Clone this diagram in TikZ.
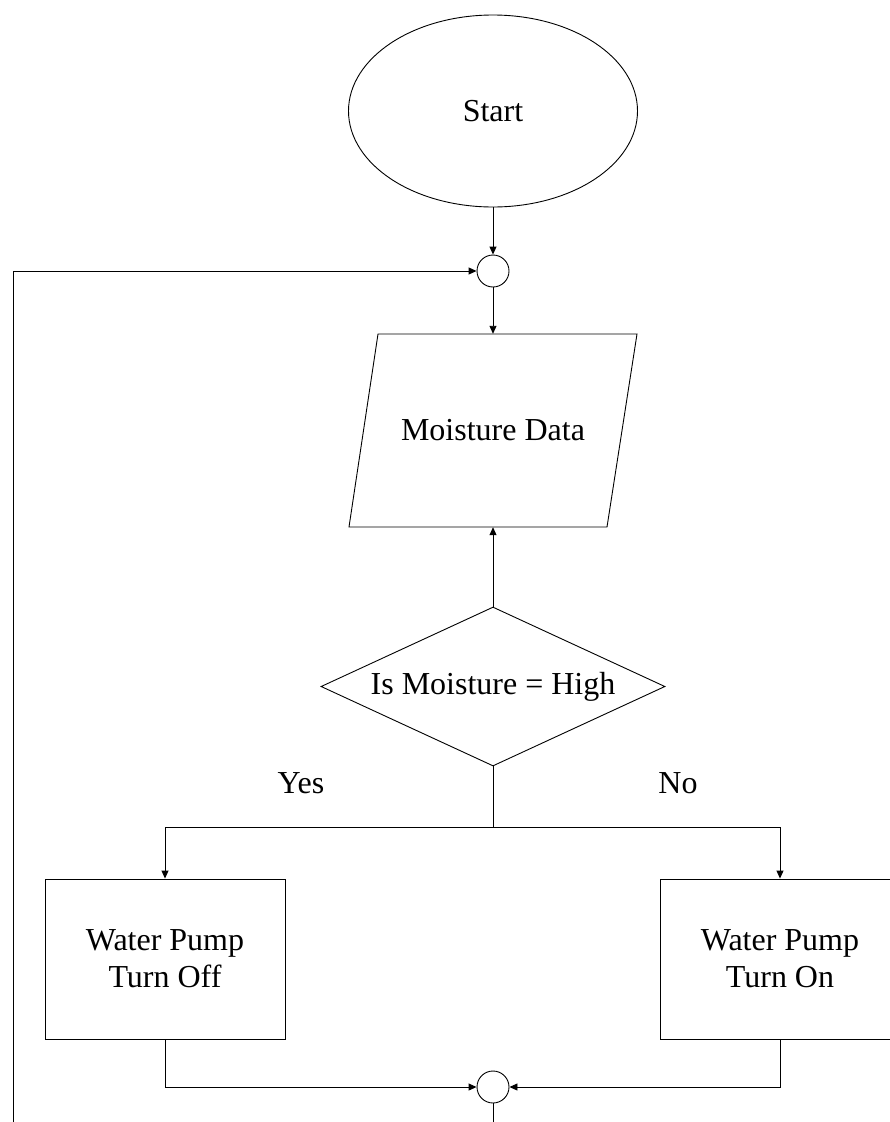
\documentclass[tikz,border=0pt]{standalone}
\usepackage{fontspec}
\setmainfont{Liberation Serif}
\usetikzlibrary{shapes.geometric,arrows.meta}
\begin{document}
\begin{tikzpicture}[x=1pt,y=-1pt,
  every node/.style={font=\fontsize{32}{37}\selectfont},
  ln/.style={line width=0.9pt},
  arr/.style={ln,-{Triangle[length=8pt,width=7pt]}},
  junction/.style={circle,draw,ln,minimum size=32pt,inner sep=0pt},
  procbox/.style={rectangle,draw,ln,minimum width=240pt,minimum height=160pt,align=center,inner sep=0pt}]
\useasboundingbox (0,0) rectangle (890,1122);
\clip (0,0) rectangle (890,1122);
\node[ellipse,draw,ln,minimum width=289pt,minimum height=192pt,inner sep=0pt] (start) at (493,111) {Start};
\node[junction] (c1) at (493,271) {};
\node[rectangle,minimum width=258pt,minimum height=193pt,inner sep=0pt] (data) at (493,430.5) {Moisture Data};
\draw[ln] (349,527) -- (378,334) -- (637,334) -- (607,527) -- cycle;
\node[diamond,draw,ln,aspect=2.16,minimum width=344pt,minimum height=159pt,inner sep=0pt] (dec) at (493,686.5) {Is Moisture = High};
\coordinate (split) at (493,827);
\node[procbox] (off) at (165,959) {Water Pump\\Turn Off};
\node[procbox] (on) at (780,959) {Water Pump\\Turn On};
\node[junction] (c2) at (493,1087) {};
\coordinate (loopbot) at (13,1122);
\coordinate (outbot) at (493,1122);
\node (yes) at (301,783) {Yes};
\node (no) at (678,783) {No};
\draw[arr] (start.south) -- (c1.north);
\draw[arr] (c1.south) -- (data.north);
\draw[arr] (dec.north) -- (data.south);
\draw[ln] (dec.south) -- (split);
\draw[arr] (split) -| (off.north);
\draw[arr] (split) -| (on.north);
\draw[arr] (off.south) |- (c2.west);
\draw[arr] (on.south) |- (c2.east);
\draw[ln] (c2.south) -- (outbot);
\draw[arr] (loopbot) |- (c1.west);
\end{tikzpicture}
\end{document}
